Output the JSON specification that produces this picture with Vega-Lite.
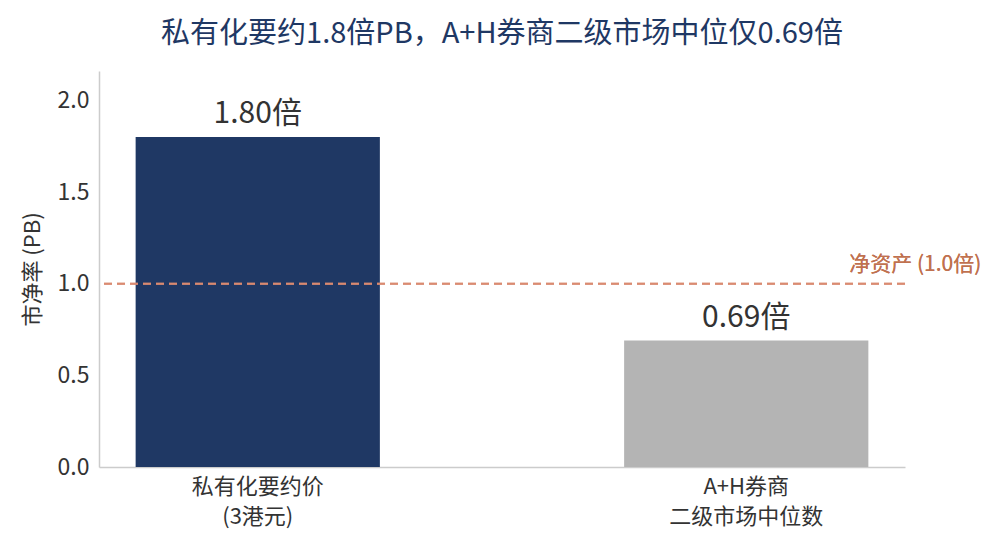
{
  "$schema": "https://vega.github.io/schema/vega-lite/v6.json",
  "width": 806,
  "height": 396,
  "autosize": {"type": "none"},
  "padding": {"left": 99, "top": 71, "right": 95, "bottom": 87},
  "background": "white",
  "config": {
    "view": {"stroke": null},
    "font": "Noto Sans CJK SC"
  },
  "title": {
    "text": "私有化要约1.8倍PB，A+H券商二级市场中位仅0.69倍",
    "fontSize": 29,
    "fontWeight": "normal",
    "color": "#1f3864",
    "anchor": "middle",
    "offset": 22,
    "font": "Noto Sans CJK SC"
  },
  "data": {
    "values": [
      {"category": "私有化要约价|(3港元)", "pb": 1.8, "label": "1.80倍"},
      {"category": "A+H券商|二级市场中位数", "pb": 0.69, "label": "0.69倍"}
    ]
  },
  "encoding": {
    "x": {
      "field": "category",
      "type": "nominal",
      "sort": null,
      "scale": {"paddingInner": 0.5, "paddingOuter": 0.075},
      "axis": {
        "title": null,
        "labelAngle": 0,
        "labelExpr": "split(datum.value, '|')",
        "labelFontSize": 22,
        "labelColor": "#333333",
        "labelLineHeight": 30,
        "labelPadding": 9,
        "ticks": false,
        "domainColor": "#cccccc",
        "domainWidth": 1.5,
        "grid": false
      }
    }
  },
  "layer": [
    {
      "mark": {"type": "bar"},
      "encoding": {
        "y": {
          "field": "pb",
          "type": "quantitative",
          "scale": {"domain": [0, 2.16], "nice": false},
          "axis": {
            "title": "市净率 (PB)",
            "titleFontSize": 22,
            "titleFontWeight": "normal",
            "titleColor": "#333333",
            "titlePadding": 13,
            "values": [0, 0.5, 1, 1.5, 2],
            "format": ".1f",
            "labelFontSize": 23,
            "labelColor": "#333333",
            "labelPadding": 10,
            "ticks": false,
            "grid": false,
            "domainColor": "#cccccc",
            "domainWidth": 1.5
          }
        },
        "color": {
          "field": "category",
          "type": "nominal",
          "scale": {
            "domain": ["私有化要约价|(3港元)", "A+H券商|二级市场中位数"],
            "range": ["#1f3864", "#b4b4b4"]
          },
          "legend": null
        }
      }
    },
    {
      "mark": {
        "type": "text",
        "baseline": "alphabetic",
        "dy": -14,
        "fontSize": 30,
        "color": "#333333"
      },
      "encoding": {
        "y": {"field": "pb", "type": "quantitative"},
        "text": {"field": "label"}
      }
    },
    {
      "mark": {
        "type": "rule",
        "color": "#d98a70",
        "strokeWidth": 2,
        "strokeDash": [8, 5],
        "opacity": 0.9
      },
      "encoding": {
        "y": {"datum": 1},
        "x": null
      }
    },
    {
      "mark": {
        "type": "text",
        "align": "right",
        "baseline": "middle",
        "dx": 113,
        "dy": -19,
        "fontSize": 21,
        "color": "#c0714f"
      },
      "encoding": {
        "x": {"datum": "A+H券商|二级市场中位数", "bandPosition": 1},
        "y": {"datum": 1},
        "text": {"value": "净资产 (1.0倍)"}
      }
    }
  ]
}
